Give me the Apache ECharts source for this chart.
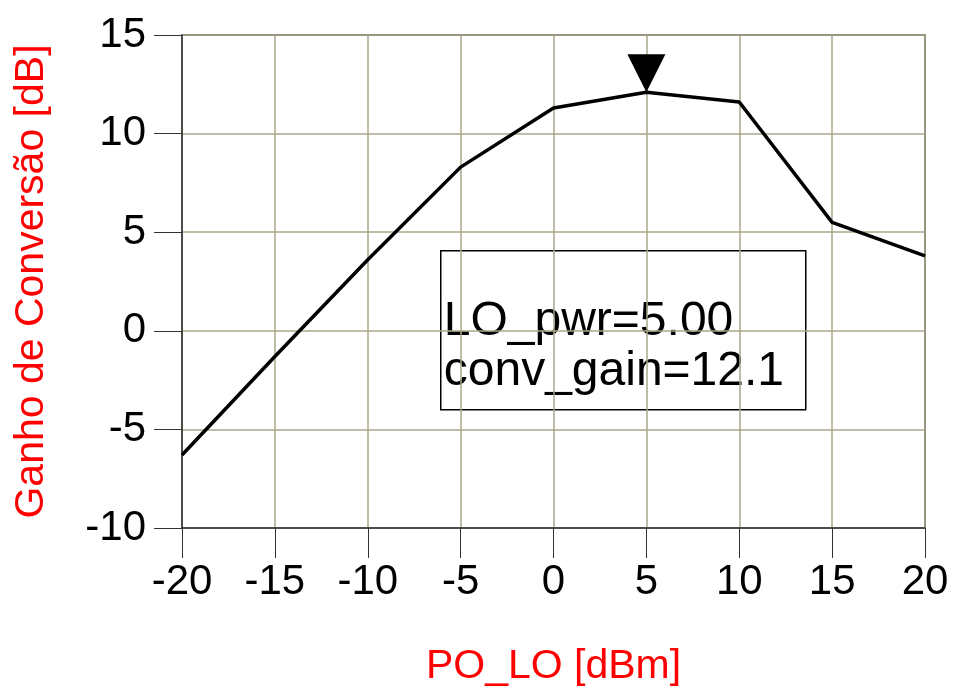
<!DOCTYPE html>
<html>
<head>
<meta charset="utf-8">
<script src="https://cdn.jsdelivr.net/npm/echarts@6/dist/echarts.min.js"></script>
<style>
  html, body { margin: 0; padding: 0; background: #fff; }
  #chart { width: 953px; height: 694px; }
</style>
</head>
<body>
<div id="chart"></div>
<script>
// PO_LO sweep (dBm) and conversion gain (dB)
var loPower = [-20, -15, -10, -5, 0, 5, 10, 15, 20];
var convGain = [-6.3, -1.3, 3.6, 8.3, 11.3, 12.1, 11.6, 5.5, 3.8];
var markerX = 5;
var markerY = 12.1;
var annotationLines = ['LO_pwr=5.00', 'conv_gain=12.1'];

var chart = echarts.init(document.getElementById('chart'));
var font = 'Liberation Sans, Arial, sans-serif';
var gridColor = '#aaa68a';

chart.setOption({
  animation: false,
  backgroundColor: '#fff',
  grid: {
    left: 182, right: 28, top: 35, bottom: 166,
    show: true, borderColor: '#333', borderWidth: 1.5, containLabel: false
  },
  xAxis: {
    type: 'value', min: -20, max: 20, interval: 5,
    name: 'PO_LO [dBm]', nameLocation: 'middle', nameGap: 118,
    nameTextStyle: { color: '#ff0000', fontSize: 41, fontFamily: font },
    axisLine: { show: true, onZero: false, lineStyle: { color: '#333', width: 1.5 } },
    axisTick: { show: true, length: 30, lineStyle: { color: '#333' } },
    axisLabel: { color: '#000', fontSize: 42, fontFamily: font, margin: 33 },
    splitLine: { show: true, lineStyle: { color: gridColor, width: 1.5 } }
  },
  yAxis: {
    type: 'value', min: -10, max: 15, interval: 5,
    name: 'Ganho de Conversão [dB]', nameLocation: 'middle', nameGap: 130,
    nameTextStyle: { color: '#ff0000', fontSize: 41, fontFamily: font },
    axisLine: { show: true, onZero: false, lineStyle: { color: '#333', width: 1.5 } },
    axisTick: { show: true, length: 28, lineStyle: { color: '#333' } },
    axisLabel: { color: '#000', fontSize: 42, fontFamily: font, margin: 36 },
    splitLine: { show: true, lineStyle: { color: gridColor, width: 1.5 } }
  },
  series: [{
    type: 'line',
    data: loPower.map(function (x, i) { return [x, convGain[i]]; }),
    showSymbol: false,
    lineStyle: { color: '#000', width: 3.5 },
    markPoint: {
      symbol: 'triangle',
      symbolSize: [38, 38],
      symbolRotate: 180,
      symbolOffset: [0, -19],
      itemStyle: { color: '#000' },
      label: { show: false },
      data: [{ coord: [markerX, markerY] }]
    }
  }],
  graphic: [{
    type: 'group',
    left: 440, top: 250,
    children: [
      { type: 'rect', shape: { x: 0, y: 0, width: 365, height: 159 },
        style: { fill: '#fff', stroke: '#000', lineWidth: 1.5 } },
      { type: 'text', left: 3, top: 46,
        style: { text: annotationLines.join('\n'), font: '48px ' + font, fill: '#000', lineHeight: 50 } }
    ]
  }]
});
</script>
</body>
</html>
